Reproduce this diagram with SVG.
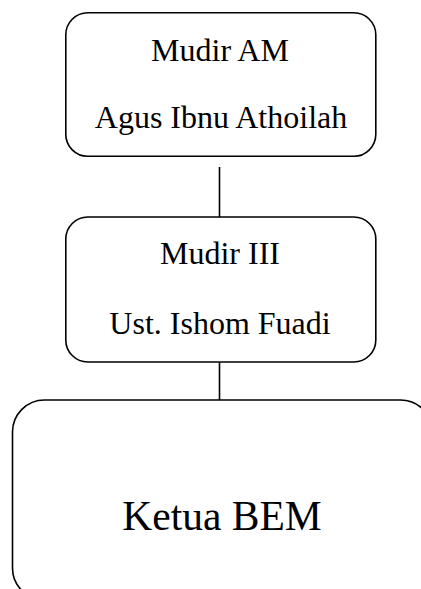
<svg xmlns="http://www.w3.org/2000/svg" width="421" height="589" viewBox="0 0 421 589">
<style>
.box{fill:#fff;stroke:#000;stroke-width:1.6}
.t{font-family:"Liberation Serif","Times New Roman",serif;font-size:32px;fill:#000;text-anchor:middle}
.conn{stroke:#000;stroke-width:1.6;fill:none}
</style>
<rect width="421" height="589" fill="#fff"/>
<g id="connectors">
<line class="conn" x1="219.5" y1="167" x2="219.5" y2="217"/>
<line class="conn" x1="219.5" y1="362" x2="219.5" y2="400"/>
</g>
<g id="mudir-am">
<rect class="box" x="65.8" y="12.8" width="310" height="143.5" rx="22"/>
<text class="t" x="220" y="61">Mudir AM</text>
<text class="t" x="221" y="128">Agus Ibnu Athoilah</text>
</g>
<g id="mudir-iii">
<rect class="box" x="65.8" y="217" width="310" height="145" rx="22"/>
<text class="t" x="220" y="264">Mudir III</text>
<text class="t" x="220" y="334">Ust. Ishom Fuadi</text>
</g>
<g id="ketua-bem">
<rect class="box" x="12.5" y="400" width="420" height="200" rx="32"/>
<text class="t" x="222" y="530" style="font-size:41.5px">Ketua BEM</text>
</g>
</svg>
